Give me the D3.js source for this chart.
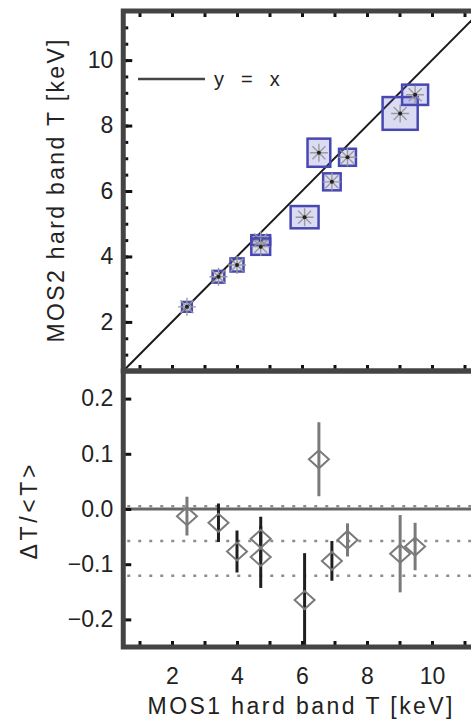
<!DOCTYPE html>
<html>
<head>
<meta charset="utf-8">
<script src="https://cdn.jsdelivr.net/npm/d3@7"></script>
<style>
  body { margin: 0; background: #fff; }
  text { font-family: "Liberation Sans", Arial, Helvetica, sans-serif; fill: #222; }
</style>
</head>
<body>
<div id="chart"></div>
<script>
// MOS1 vs MOS2 hard band temperatures (keV)
var mos1T   = [2.46, 3.43, 4.0, 4.73, 4.73, 6.08, 6.52, 6.92, 7.4, 9.02, 9.48];
var mos1Err = [0.15, 0.18, 0.2, 0.29, 0.29, 0.43, 0.35, 0.27, 0.26, 0.54, 0.4];
var mos2T   = [2.46, 3.38, 3.74, 4.5, 4.3, 5.2, 7.17, 6.28, 7.03, 8.37, 8.94];
var mos2Err = [0.15, 0.18, 0.2, 0.15, 0.25, 0.34, 0.43, 0.26, 0.26, 0.5, 0.31];

// fractional difference dT/<T>
var dFrac    = [-0.013, -0.025, -0.077, -0.054, -0.087, -0.165, 0.09, -0.094, -0.056, -0.081, -0.068];
var dFracErr = [0.035, 0.035, 0.038, 0.04, 0.056, 0.085, 0.067, 0.036, 0.03, 0.07, 0.043];
var errGroup = ["b", "a", "a", "a", "a", "a", "b", "a", "b", "b", "b"];

// mean and +/- 1 sigma of dT/<T>
var refLines = [0.005, -0.058, -0.121];

var xTicks = [2, 4, 6, 8, 10];
var yTopTicks = [2, 4, 6, 8, 10];
var yBotTicks = [-0.2, -0.1, 0.0, 0.1, 0.2];

var W = 471, H = 721;
var left = 123.25, right = 480.75;
var topY0 = 11, topY1 = 371, botY1 = 647;

var svg = d3.select("#chart").append("svg")
  .attr("width", W)
  .attr("height", H);

var x = d3.scaleLinear().domain([0.5, 11.5]).range([left, right]);
var yTop = d3.scaleLinear().domain([0.5, 11.5]).range([topY1, topY0]);
var yBot = d3.scaleLinear().domain([-0.25, 0.25]).range([botY1, topY1]);

var data = mos1T.map(function(d, i) {
  return { x: d, xe: mos1Err[i], y: mos2T[i], ye: mos2Err[i],
           r: dFrac[i], re: dFracErr[i], g: errGroup[i] };
});

var defs = svg.append("defs");
defs.append("clipPath").attr("id", "clipTop")
  .append("rect").attr("x", left).attr("y", topY0)
  .attr("width", right - left).attr("height", topY1 - topY0);
defs.append("clipPath").attr("id", "clipBot")
  .append("rect").attr("x", left).attr("y", topY1)
  .attr("width", right - left).attr("height", botY1 - topY1);

// ---------- top panel ----------
var gTop = svg.append("g").attr("clip-path", "url(#clipTop)");

gTop.append("line")
  .attr("x1", x(0.5)).attr("y1", yTop(0.5))
  .attr("x2", x(11.5)).attr("y2", yTop(11.5))
  .attr("stroke", "#1a1a1a").attr("stroke-width", 2);

var pts = gTop.selectAll(".pt").data(data).enter().append("g").attr("class", "pt");

pts.append("rect")
  .attr("x", function(d) { return x(d.x - d.xe); })
  .attr("y", function(d) { return yTop(d.y + d.ye); })
  .attr("width", function(d) { return x(d.x + d.xe) - x(d.x - d.xe); })
  .attr("height", function(d) { return yTop(d.y - d.ye) - yTop(d.y + d.ye); })
  .attr("fill", "rgba(90,90,205,0.22)")
  .attr("stroke", "#4848b2")
  .attr("stroke-width", 2.5);

var arm = 9;
var star = [[-1, 0], [0, -1], [-0.72, -0.72], [-0.72, 0.72]];
star.forEach(function(s) {
  pts.append("line")
    .attr("x1", function(d) { return x(d.x) + s[0] * arm; })
    .attr("y1", function(d) { return yTop(d.y) + s[1] * arm; })
    .attr("x2", function(d) { return x(d.x) - s[0] * arm; })
    .attr("y2", function(d) { return yTop(d.y) - s[1] * arm; })
    .attr("stroke", "#9a9a9a")
    .attr("stroke-width", 1.4);
});
pts.append("circle")
  .attr("cx", function(d) { return x(d.x); })
  .attr("cy", function(d) { return yTop(d.y); })
  .attr("r", 2)
  .attr("fill", "#222");

// legend
svg.append("line")
  .attr("x1", 138).attr("x2", 205).attr("y1", 79).attr("y2", 79)
  .attr("stroke", "#444").attr("stroke-width", 2.5);
svg.append("text")
  .attr("x", 214).attr("y", 86)
  .attr("font-size", 20)
  .attr("word-spacing", 11.5)
  .text("y = x");

// ---------- bottom panel ----------
var gBot = svg.append("g").attr("clip-path", "url(#clipBot)");

gBot.append("line")
  .attr("x1", left).attr("x2", right)
  .attr("y1", yBot(0)).attr("y2", yBot(0))
  .attr("stroke", "#666").attr("stroke-width", 3);

gBot.selectAll(".ref").data(refLines).enter().append("line")
  .attr("class", "ref")
  .attr("x1", left + 4).attr("x2", right)
  .attr("y1", function(d) { return yBot(d); })
  .attr("y2", function(d) { return yBot(d); })
  .attr("stroke", "#8c8c8c")
  .attr("stroke-width", 2.5)
  .attr("stroke-dasharray", "3,8");

var barColor = d3.scaleOrdinal().domain(["a", "b"]).range(["#1e1e1e", "#7a7a7a"]);

gBot.selectAll(".err").data(data).enter().append("line")
  .attr("class", "err")
  .attr("x1", function(d) { return x(d.x); })
  .attr("x2", function(d) { return x(d.x); })
  .attr("y1", function(d) { return yBot(d.r + d.re); })
  .attr("y2", function(d) { return yBot(d.r - d.re); })
  .attr("stroke", function(d) { return barColor(d.g); })
  .attr("stroke-width", 3);

var dw = 10, dh = 9;
gBot.selectAll(".dia").data(data).enter().append("path")
  .attr("class", "dia")
  .attr("d", function(d) {
    var cx = x(d.x), cy = yBot(d.r);
    return "M" + (cx - dw) + "," + cy + "L" + cx + "," + (cy - dh) +
           "L" + (cx + dw) + "," + cy + "L" + cx + "," + (cy + dh) + "Z";
  })
  .attr("fill", "none")
  .attr("stroke", "#7a7a7a")
  .attr("stroke-width", 2);

// ---------- axes ----------
function styleAxis(g) {
  g.select(".domain").remove();
  g.selectAll(".tick line").attr("stroke", "#111").attr("stroke-width", 3);
  g.selectAll(".tick text").attr("font-size", 23).attr("fill", "#222")
    .attr("font-family", "Liberation Sans, Arial, sans-serif");
}

var xMinor = d3.range(1, 12, 1);

// top panel: x ticks on top and bottom edges
[topY0, topY1].forEach(function(yy, i) {
  var ax = (i === 0 ? d3.axisTop(x).tickSize(-6) : d3.axisBottom(x).tickSize(-6));
  svg.append("g").attr("transform", "translate(0," + yy + ")")
    .call(ax.tickValues(xMinor).tickFormat(""))
    .call(styleAxis);
});
// bottom panel bottom edge
svg.append("g").attr("transform", "translate(0," + botY1 + ")")
  .call(d3.axisBottom(x).tickValues(xMinor).tickSize(-6).tickFormat(""))
  .call(styleAxis);
svg.append("g").attr("transform", "translate(0," + botY1 + ")")
  .call(d3.axisBottom(x).tickValues(xTicks).tickSize(0).tickPadding(21).tickFormat(d3.format("d")))
  .call(styleAxis);

// top panel y axis
svg.append("g").attr("transform", "translate(" + left + ",0)")
  .call(d3.axisLeft(yTop).tickValues(d3.range(1, 11.5, 0.5)).tickSize(-5).tickFormat(""))
  .call(styleAxis);
svg.append("g").attr("transform", "translate(" + left + ",0)")
  .call(d3.axisLeft(yTop).tickValues(yTopTicks).tickSize(-9).tickPadding(10).tickFormat(d3.format("d")))
  .call(styleAxis);

// bottom panel y axis
svg.append("g").attr("transform", "translate(" + left + ",0)")
  .call(d3.axisLeft(yBot).tickValues(yBotTicks).tickSize(-8).tickPadding(10).tickFormat(d3.format(".1f")))
  .call(styleAxis);

// frames
[[topY0, topY1], [topY1, botY1]].forEach(function(p) {
  svg.append("rect")
    .attr("x", left).attr("y", p[0])
    .attr("width", right - left).attr("height", p[1] - p[0])
    .attr("fill", "none")
    .attr("stroke", "#444")
    .attr("stroke-width", 5);
});
// redraw tick marks above the frame
svg.selectAll(".tick line").raise();

// ---------- titles ----------
svg.append("text")
  .attr("text-anchor", "middle")
  .attr("font-size", 23)
  .attr("textLength", 305)
  .attr("lengthAdjust", "spacing")
  .attr("transform", "translate(300,714)")
  .text("MOS1 hard band T [keV]");

svg.append("text")
  .attr("text-anchor", "middle")
  .attr("font-size", 23)
  .attr("textLength", 303)
  .attr("lengthAdjust", "spacing")
  .attr("transform", "translate(64,191)rotate(-90)")
  .text("MOS2 hard band T [keV]");

svg.append("text")
  .attr("text-anchor", "middle")
  .attr("font-size", 23)
  .attr("textLength", 95)
  .attr("lengthAdjust", "spacing")
  .attr("transform", "translate(37,512)rotate(-90)")
  .text("\u0394T/<T>");
</script>
</body>
</html>
